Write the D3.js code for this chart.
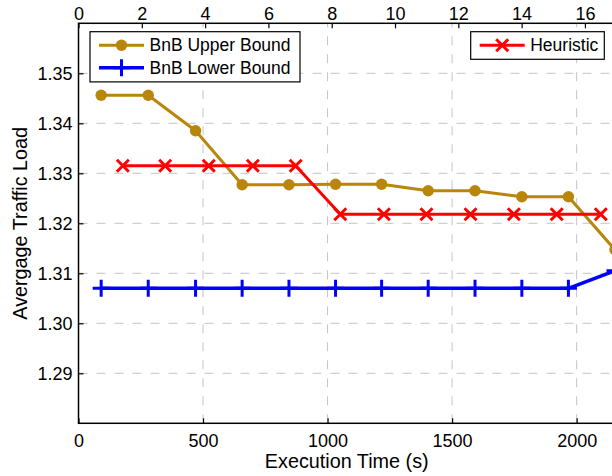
<!DOCTYPE html>
<html>
<head>
<meta charset="utf-8">
<script src="https://cdn.jsdelivr.net/npm/d3@7"></script>
<style>
  body { margin: 0; background: #fff; }
  svg { display: block; font-family: "Liberation Sans", Arial, Helvetica, sans-serif; }
</style>
</head>
<body>
<svg width="612" height="476"></svg>
<script>
// data
var timeBnB = [91, 280, 470, 657, 845, 1032, 1217, 1404, 1592, 1780, 1967, 2154];
var upperBound = [1.3456, 1.3456, 1.3385, 1.3277, 1.3277, 1.3278, 1.3278, 1.3265, 1.3265, 1.3253, 1.3253, 1.3147];
var lowerBound = [1.307, 1.307, 1.307, 1.307, 1.307, 1.307, 1.307, 1.307, 1.307, 1.307, 1.307, 1.3105];
var timeHeur = [178, 348, 523, 700, 872, 1051, 1226, 1397, 1574, 1748, 1920, 2097];
var heuristic = [1.3315, 1.3315, 1.3315, 1.3315, 1.3315, 1.3218, 1.3218, 1.3218, 1.3218, 1.3218, 1.3218, 1.3218];

var xTicks = [0, 500, 1000, 1500, 2000];
var xTopTicks = [0, 2, 4, 6, 8, 10, 12, 14, 16];
var yTicks = [1.29, 1.30, 1.31, 1.32, 1.33, 1.34, 1.35];

var svg = d3.select("svg"),
    width = +svg.attr("width"),
    height = +svg.attr("height");

// plot box (right edge runs just past the page)
var pLeft = 78.5, pRight = 615, pTop = 23.3, pBottom = 423.3;

var x = d3.scaleLinear().domain([0, 2154]).range([pLeft, pRight]);
var xTop = d3.scaleLinear().domain([0, 16.95]).range([pLeft, pRight]);
var y = d3.scaleLinear().domain([1.28, 1.36]).range([pBottom, pTop]);

var gold = "#b8860b", red = "#ff0000", blue = "#0000ff";

//grid (dashed, bottom + left ticks only)
var grid = svg.append("g")
    .attr("stroke", "#c4c4c4")
    .attr("stroke-width", 1)
    .attr("stroke-dasharray", "9,9");

grid.selectAll(".vgrid")
    .data(xTicks.filter(function(d) { return d > 0; }))
    .enter().append("line")
      .attr("x1", function(d) { return x(d); })
      .attr("x2", function(d) { return x(d); })
      .attr("y1", pBottom)
      .attr("y2", pTop);

grid.selectAll(".hgrid")
    .data(yTicks)
    .enter().append("line")
      .attr("y1", function(d) { return y(d); })
      .attr("y2", function(d) { return y(d); })
      .attr("x1", pLeft)
      .attr("x2", pRight);

// axes, ticks pointing inward like matlab
var xAxis = svg.append("g")
    .attr("transform", "translate(0," + pBottom + ")")
    .call(d3.axisBottom(x).tickValues(xTicks).tickSizeInner(-5).tickSizeOuter(0).tickPadding(10.5).tickFormat(d3.format("d")));

var topAxis = svg.append("g")
    .attr("transform", "translate(0," + pTop + ")")
    .call(d3.axisTop(xTop).tickValues(xTopTicks).tickSizeInner(-5).tickSizeOuter(0).tickPadding(3).tickFormat(d3.format("d")));

var yAxis = svg.append("g")
    .attr("transform", "translate(" + pLeft + ",0)")
    .call(d3.axisLeft(y).tickValues(yTicks).tickSizeInner(-5).tickSizeOuter(0).tickPadding(6).tickFormat(d3.format(".2f")));

[xAxis, topAxis, yAxis].forEach(function(a) {
    a.select(".domain").remove();
    a.selectAll("text").attr("font-size", 18).attr("fill", "#000");
    a.selectAll("line").attr("stroke", "#000").attr("stroke-width", 1.2);
});
svg.selectAll("g").attr("font-family", null);

// box
svg.append("rect")
    .attr("x", pLeft)
    .attr("y", pTop)
    .attr("width", pRight - pLeft)
    .attr("height", pBottom - pTop)
    .attr("fill", "none")
    .attr("stroke", "#000")
    .attr("stroke-width", 1.5);

svg.append("clipPath").attr("id", "plotclip")
  .append("rect")
    .attr("x", pLeft).attr("y", pTop)
    .attr("width", pRight - pLeft).attr("height", pBottom - pTop);

var plot = svg.append("g").attr("clip-path", "url(#plotclip)");

function marker(g, type, color) {
    if (type == "circle") {
        g.append("circle").attr("r", 5.7).attr("fill", color);
    } else if (type == "x") {
        g.append("path").attr("d", "M-6,-6L6,6M-6,6L6,-6")
            .attr("stroke", color).attr("stroke-width", 3).attr("fill", "none");
    } else {
        g.append("path").attr("d", "M-8.5,0L8.5,0M0,-8.5L0,8.5")
            .attr("stroke", color).attr("stroke-width", 3).attr("fill", "none");
    }
}

function drawSeries(xs, ys, color, type, lw) {
    var pts = xs.map(function(d, i) { return [d, ys[i]]; });
    var line = d3.line()
        .x(function(d) { return x(d[0]); })
        .y(function(d) { return y(d[1]); });

    plot.append("path")
        .datum(pts)
        .attr("d", line)
        .attr("fill", "none")
        .attr("stroke", color)
        .attr("stroke-width", lw)
        .attr("stroke-linejoin", "round");

    plot.selectAll(".m-" + type)
        .data(pts)
        .enter().append("g")
          .attr("class", "m-" + type)
          .attr("transform", function(d) { return "translate(" + x(d[0]) + "," + y(d[1]) + ")"; })
          .each(function() { marker(d3.select(this), type, color); });
}

drawSeries(timeBnB, lowerBound, blue, "plus", 3.5);
drawSeries(timeBnB, upperBound, gold, "circle", 3);
drawSeries(timeHeur, heuristic, red, "x", 3);

// axis labels
svg.append("text")
    .attr("x", (pLeft + pRight) / 2)
    .attr("y", 467.5)
    .attr("text-anchor", "middle")
    .attr("font-size", 19.8)
    .text("Execution Time (s)");

svg.append("text")
    .attr("transform", "translate(26.7," + ((pTop + pBottom) / 2) + ") rotate(-90)")
    .attr("text-anchor", "middle")
    .attr("font-size", 19.8)
    .text("Avergage Traffic Load");

// legends
function legend(lx, ly, w, entries) {
    var g = svg.append("g").attr("transform", "translate(" + lx + "," + ly + ")");
    g.append("rect")
        .attr("width", w)
        .attr("height", 5 + entries.length * 22.6)
        .attr("fill", "#fff")
        .attr("stroke", "#000")
        .attr("stroke-width", 1.2);
    entries.forEach(function(e, i) {
        var cy = 13.5 + i * 22.6;
        g.append("line")
            .attr("x1", 9).attr("x2", 54)
            .attr("y1", cy).attr("y2", cy)
            .attr("stroke", e.color).attr("stroke-width", e.lw);
        marker(g.append("g").attr("transform", "translate(31.5," + cy + ")"), e.type, e.color);
        g.append("text")
            .attr("x", 59.5)
            .attr("y", cy + 6.3)
            .attr("font-size", 17.5)
            .text(e.name);
    });
}

legend(90, 31.7, 210, [
    {name: "BnB Upper Bound", color: gold, type: "circle", lw: 3},
    {name: "BnB Lower Bound", color: blue, type: "plus", lw: 3.5}
]);

legend(470.7, 31.7, 133.6, [
    {name: "Heuristic", color: red, type: "x", lw: 3}
]);
</script>
</body>
</html>
